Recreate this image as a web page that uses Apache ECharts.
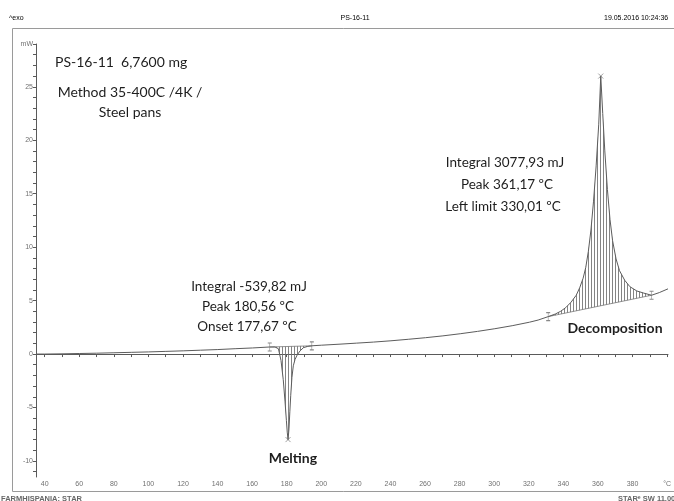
<!DOCTYPE html>
<html>
<head>
<meta charset="utf-8">
<title>PS-16-11 DSC</title>
<script src="https://cdn.jsdelivr.net/npm/echarts@6/dist/echarts.min.js"></script>
<style>
  html, body { margin: 0; padding: 0; background: #fff; }
  #chart { width: 674px; height: 501px; }
</style>
</head>
<body>
<div id="chart"></div>
<script>
// DSC run PS-16-11: temperature (°C) and heat flow (mW, exo up)
const tempC = [35, 40, 50, 60, 70, 80, 90, 100, 110, 120, 130, 140, 150, 160, 170, 173, 175,
  176.5, 177.8, 178.8, 179.6, 180.1, 180.56, 181.1, 181.6, 182.1, 182.8, 183.6, 184.6, 185.8,
  187.5, 189.5, 192, 195, 200, 210, 220, 230, 240, 250, 260, 270, 280, 290, 300, 310, 320, 325,
  330.8, 335, 338, 341, 344, 347, 349, 351, 352.5, 354, 355.5, 357, 358.5, 360, 361.17, 362.3,
  363.5, 365, 366.5, 368, 370, 372, 375, 378, 382, 386, 390.5, 395, 400];
const heatFlow = [0.0, 0.0, 0.02, 0.05, 0.08, 0.12, 0.16, 0.2, 0.25, 0.3, 0.36, 0.42, 0.5, 0.57, 0.66, 0.66, 0.5,
  -0.6, -2.4, -4.4, -6.2, -7.3, -8.0, -7.0, -5.4, -3.9, -2.2, -1.1, -0.5, -0.1,
  0.3, 0.6, 0.72, 0.78, 0.83, 0.92, 1.02, 1.12, 1.24, 1.38, 1.53, 1.7, 1.9, 2.12, 2.37, 2.65, 2.98, 3.18,
  3.5, 3.75, 4.0, 4.35, 4.85, 5.5, 6.2, 7.1, 8.1, 9.6, 11.6, 14.3, 17.6, 21.5, 26.0, 22.5,
  19.0, 15.4, 12.6, 10.6, 8.9, 7.8, 6.9, 6.3, 5.9, 5.7, 5.5, 5.75, 6.1];

// integration limits [temperature, heat flow]
const meltLimits = [[170.0, 0.66], [194.3, 0.77]];
const decompLimits = [[330.8, 3.5], [390.5, 5.5]];
const peakPoints = [[180.56, -8.0], [361.17, 26.0]];

// axis ranges and labelled ticks
const tempRange = [35, 400];
const flowRange = [-11.5, 29];
const xLabelTicks = [40, 60, 80, 100, 120, 140, 160, 180, 200, 220, 240, 260, 280, 300, 320, 340, 360, 380];
const yLabelTicks = [-10, -5, 0, 5, 10, 15, 20, 25];
const xUnit = '°C';
const yUnit = 'mW';

const chart = echarts.init(document.getElementById('chart'), null, { renderer: 'canvas' });

// plot box geometry
const PL = 36, PT = 44, PW = 632, PH = 433;
const pxPerC = PW / (tempRange[1] - tempRange[0]);
const pxPerMw = PH / (flowRange[1] - flowRange[0]);
const xTickStart = 40, yTickStart = -11;
const offX = (xTickStart - tempRange[0]) * pxPerC;
const offY = (yTickStart - flowRange[0]) * pxPerMw;

// vertical hatching used for the integrated areas
function hatchPattern(period) {
  const c = document.createElement('canvas');
  c.width = period; c.height = 4;
  const g = c.getContext('2d');
  g.fillStyle = 'rgba(110,110,110,0.85)';
  g.fillRect(0, 0, 1, 4);
  return { image: c, repeat: 'repeat' };
}
const hatch = hatchPattern(3);

const curve = tempC.map((t, i) => [t, heatFlow[i]]);
const regions = [meltLimits, decompLimits];

function renderHatch(params, api) {
  const lim = regions[params.dataIndex];
  const lo = lim[0], hi = lim[1];
  const pts = [api.coord(lo)];
  for (let i = 0; i < tempC.length; i++) {
    if (tempC[i] > lo[0] && tempC[i] < hi[0]) pts.push(api.coord([tempC[i], heatFlow[i]]));
  }
  pts.push(api.coord(hi));
  return {
    type: 'polygon',
    shape: { points: pts },
    style: { fill: hatch, stroke: null }
  };
}

const axisGray = '#5a5a5a';
const labelGray = '#707070';
const tiny = { fontSize: 7, color: labelGray, fontFamily: 'Liberation Sans' };

const option = {
  animation: false,
  backgroundColor: '#fff',
  grid: [
    { left: PL, top: PT, width: PW, height: PH },
    { left: PL + offX, top: PT, width: PW - offX, height: PH },
    { left: PL, top: PT, width: PW, height: PH - offY }
  ],
  xAxis: [
    { gridIndex: 0, type: 'value', min: tempRange[0], max: tempRange[1],
      axisLine: { show: true, lineStyle: { color: axisGray, width: 1 } },
      axisTick: { show: false }, axisLabel: { show: false }, splitLine: { show: false } },
    { gridIndex: 1, type: 'value', min: xTickStart, max: tempRange[1], interval: 10,
      axisLine: { show: false },
      axisTick: { show: true, length: 3, lineStyle: { color: axisGray, width: 1 } },
      axisLabel: Object.assign({ show: true, margin: 4, hideOverlap: false,
        formatter: v => v === tempRange[1] ? xUnit : (xLabelTicks.includes(v) ? String(v) : '') }, tiny),
      splitLine: { show: false } },
    { gridIndex: 2, type: 'value', min: tempRange[0], max: tempRange[1], show: false }
  ],
  yAxis: [
    { gridIndex: 0, type: 'value', min: flowRange[0], max: flowRange[1],
      axisLine: { show: true, lineStyle: { color: axisGray, width: 1 } },
      axisTick: { show: false }, axisLabel: { show: false }, splitLine: { show: false } },
    { gridIndex: 1, type: 'value', min: flowRange[0], max: flowRange[1], show: false },
    { gridIndex: 2, type: 'value', min: yTickStart, max: flowRange[1], interval: 1,
      axisLine: { show: false },
      axisTick: { show: true, length: 3, lineStyle: { color: axisGray, width: 1 } },
      axisLabel: Object.assign({ show: true, margin: 3, hideOverlap: false,
        formatter: v => v === flowRange[1] ? yUnit : (yLabelTicks.includes(v) ? String(v) : '') }, tiny),
      splitLine: { show: false } }
  ],
  series: [
    { type: 'custom', xAxisIndex: 0, yAxisIndex: 0, renderItem: renderHatch,
      data: [[0], [1]], silent: true, z: 1 },
    { type: 'line', name: 'baseline melting', data: meltLimits, xAxisIndex: 0, yAxisIndex: 0,
      showSymbol: false, lineStyle: { color: '#777', width: 0.8 }, silent: true, z: 2 },
    { type: 'line', name: 'baseline decomposition', data: decompLimits, xAxisIndex: 0, yAxisIndex: 0,
      showSymbol: false, lineStyle: { color: '#777', width: 0.8 }, silent: true, z: 2 },
    { type: 'line', name: 'heat flow', data: curve, xAxisIndex: 0, yAxisIndex: 0,
      showSymbol: false, lineStyle: { color: '#5c5c5c', width: 1 }, silent: true, z: 3 },
    { type: 'scatter', name: 'limits', data: meltLimits.concat(decompLimits), xAxisIndex: 0, yAxisIndex: 0,
      symbol: 'path://M0 0L4 0M2 0L2 10M0 10L4 10', symbolSize: [4, 8],
      itemStyle: { color: 'none', borderColor: '#6a6a6a', borderWidth: 0.8 }, silent: true, z: 4 },
    { type: 'scatter', name: 'peaks', data: peakPoints, xAxisIndex: 0, yAxisIndex: 0,
      symbol: 'path://M0 0L10 10M10 0L0 10', symbolSize: 5,
      itemStyle: { color: 'none', borderColor: '#6a6a6a', borderWidth: 0.8 }, silent: true, z: 4 }
  ],
  graphic: [
    { type: 'rect', shape: { x: 12.5, y: 28.5, width: 700, height: 463 },
      style: { fill: 'none', stroke: '#9a9a9a', lineWidth: 1 }, silent: true },
    { type: 'text', x: 9, y: 18, style: Object.assign({ text: '^exo', textVerticalAlign: 'middle' }, tiny) },
    { type: 'text', x: 355, y: 18, style: Object.assign({ text: 'PS-16-11', textAlign: 'center', textVerticalAlign: 'middle' }, tiny) },
    { type: 'text', x: 604, y: 18, style: Object.assign({ text: '19.05.2016 10:24:36', textVerticalAlign: 'middle' }, tiny) },
    { type: 'text', x: 1, y: 499, style: { text: 'FARMHISPANIA: STAR', fontSize: 7.5, fontWeight: 'bold', fill: '#666', fontFamily: 'Liberation Sans', textVerticalAlign: 'middle' } },
    { type: 'text', x: 618, y: 499, style: { text: 'STARᵉ SW 11.00', fontSize: 7.5, fontWeight: 'bold', fill: '#666', fontFamily: 'Liberation Sans', textVerticalAlign: 'middle' } },

    { type: 'text', x: 55, y: 62, style: { text: 'PS-16-11  6,7600 mg', fontSize: 14, fontFamily: 'Lato', fill: '#1e1e1e', textVerticalAlign: 'middle' } },
    { type: 'text', x: 130, y: 92, style: { text: 'Method 35-400C /4K /', fontSize: 14, fontFamily: 'Lato', fill: '#1e1e1e', textAlign: 'center', textVerticalAlign: 'middle' } },
    { type: 'text', x: 130, y: 112, style: { text: 'Steel pans', fontSize: 14, fontFamily: 'Lato', fill: '#1e1e1e', textAlign: 'center', textVerticalAlign: 'middle' } },

    { type: 'text', x: 505, y: 163, style: { text: 'Integral 3077,93 mJ', fontSize: 13.5, fontFamily: 'Lato', fill: '#1e1e1e', textAlign: 'center', textVerticalAlign: 'middle' } },
    { type: 'text', x: 507, y: 185, style: { text: 'Peak 361,17 ºC', fontSize: 13.5, fontFamily: 'Lato', fill: '#1e1e1e', textAlign: 'center', textVerticalAlign: 'middle' } },
    { type: 'text', x: 503, y: 207, style: { text: 'Left limit 330,01 ºC', fontSize: 13.5, fontFamily: 'Lato', fill: '#1e1e1e', textAlign: 'center', textVerticalAlign: 'middle' } },
    { type: 'text', x: 615, y: 328, style: { text: 'Decomposition', fontSize: 14, fontWeight: 'bold', fontFamily: 'Lato', fill: '#1e1e1e', textAlign: 'center', textVerticalAlign: 'middle' } },

    { type: 'text', x: 249, y: 287, style: { text: 'Integral -539,82 mJ', fontSize: 13.5, fontFamily: 'Lato', fill: '#1e1e1e', textAlign: 'center', textVerticalAlign: 'middle' } },
    { type: 'text', x: 248, y: 307, style: { text: 'Peak 180,56 ºC', fontSize: 13.5, fontFamily: 'Lato', fill: '#1e1e1e', textAlign: 'center', textVerticalAlign: 'middle' } },
    { type: 'text', x: 247, y: 327, style: { text: 'Onset 177,67 ºC', fontSize: 13.5, fontFamily: 'Lato', fill: '#1e1e1e', textAlign: 'center', textVerticalAlign: 'middle' } },
    { type: 'text', x: 293, y: 458, style: { text: 'Melting', fontSize: 14, fontWeight: 'bold', fontFamily: 'Lato', fill: '#1e1e1e', textAlign: 'center', textVerticalAlign: 'middle' } }
  ]
};

chart.setOption(option);
</script>
</body>
</html>
